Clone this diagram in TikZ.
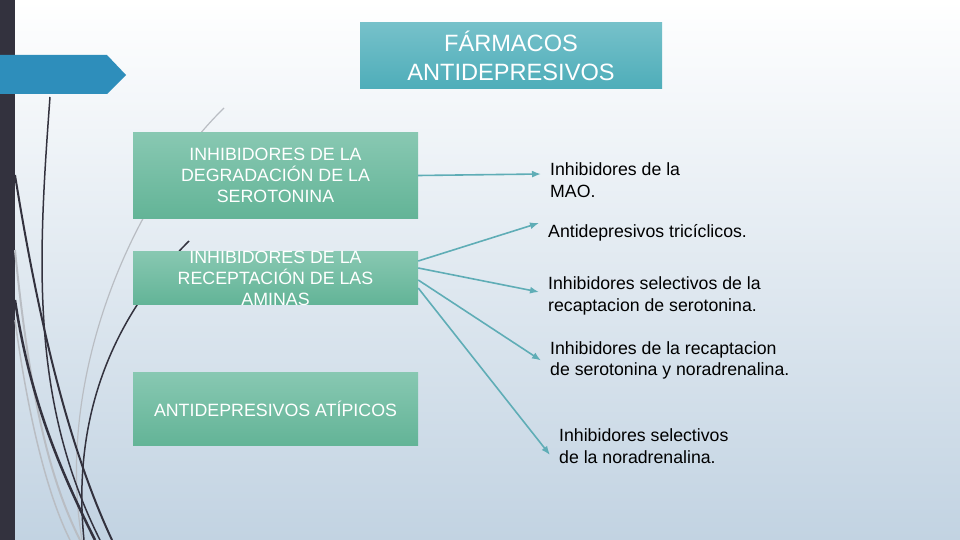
\documentclass[tikz,border=0pt]{standalone}
\usepackage{fontspec}
\setmainfont{Liberation Sans}
\usetikzlibrary{arrows.meta}
\definecolor{bgbot}{HTML}{C2D3E2}
\definecolor{darkbar}{HTML}{33323E}
\definecolor{banner}{HTML}{2E8EBB}
\definecolor{tealtop}{HTML}{76C1CA}
\definecolor{tealbot}{HTML}{4EADB9}
\definecolor{greentop}{HTML}{88C8B2}
\definecolor{greenbot}{HTML}{63B497}
\definecolor{arrowcol}{HTML}{5FADB6}
\definecolor{grayline}{HTML}{B9BDC3}
\tikzset{
  greenbox/.style={top color=greentop, bottom color=greenbot, minimum width=285pt, inner sep=0pt},
  boxtext/.style={text=white, align=center, font=\fontsize{17.8}{21}\selectfont},
  itemtext/.style={anchor=west, align=left, inner xsep=9pt, inner ysep=0pt, font=\fontsize{17.7}{21.5}\selectfont},
  arr/.style={arrowcol, line width=1.6pt, -{Latex[length=9pt,width=7pt]}}
}
\begin{document}
\begin{tikzpicture}[x=1pt, y=-1pt]
    \useasboundingbox (0,0) rectangle (960,540);
    % background and left decoration
    \fill[top color=white, bottom color=bgbot] (0,0) rectangle (960,540);
    \fill[darkbar] (0,0) rectangle (15,540);
    \fill[banner] (0,55) -- (107,55) -- (126,75) -- (107,94) -- (0,94) -- cycle;
    \draw[grayline, line width=1.2pt] (224,108) .. controls (130,200) and (55,380) .. (82,540);
    \draw[grayline, line width=2pt] (15,250) .. controls (30,400) and (50,480) .. (80,540);
    \draw[grayline, line width=1.5pt] (15,320) .. controls (30,430) and (50,500) .. (70,540);
    \draw[darkbar, line width=1.5pt] (50,97) .. controls (38,260) and (30,400) .. (100,540);
    \draw[darkbar, line width=2pt] (15,175) .. controls (40,330) and (70,450) .. (112,540);
    \draw[darkbar, line width=2.5pt] (15,300) .. controls (30,400) and (60,470) .. (95,540);
    \draw[darkbar, line width=1.5pt] (189,241) .. controls (110,320) and (72,420) .. (84,540);
    % boxes
    \node[top color=tealtop, bottom color=tealbot, minimum width=302pt, minimum height=66pt,
          text=white, align=center, font=\fontsize{23.6}{29}\selectfont] (titulo) at (511,56)
          {FÁRMACOS\\ANTIDEPRESIVOS};
    \node[greenbox, minimum height=85pt, boxtext] (degrad) at (275.5,175.5)
          {INHIBIDORES DE LA\\DEGRADACIÓN DE LA\\SEROTONINA};
    \node[greenbox, minimum height=53pt] (recep) at (275.5,277.5) {};
    \node[boxtext] (receptxt) at ([yshift=-1pt]recep) {INHIBIDORES DE LA\\RECEPTACIÓN DE LAS\\AMINAS};
    \node[greenbox, minimum height=73pt, boxtext] (atip) at (275.5,408.5)
          {ANTIDEPRESIVOS ATÍPICOS};
    % items
    \node[itemtext] (mao) at (541,180) {Inhibidores de la\\MAO.};
    \node[itemtext] (tric) at (539,233) {Antidepresivos tricíclicos.};
    \node[itemtext, font=\fontsize{17.7}{22}\selectfont] (sel) at (539,296)
          {Inhibidores selectivos de la\\recaptacion de serotonina.};
    \node[itemtext] (dual) at (541,360.5) {Inhibidores de la recaptacion\\de serotonina y noradrenalina.};
    \node[itemtext, font=\fontsize{17.7}{22}\selectfont] (nor) at (550,446)
          {Inhibidores selectivos\\de la noradrenalina.};
    % connectors
    \draw[arr] (degrad.east) -- ([yshift=6pt]mao.west);
    \foreach \s/\t/\d in {16.5/tric/10, 9.5/sel/4, -2.5/dual/0, -10.5/nor/-9}
        \draw[arr] ([yshift=\s pt]recep.east) -- ([yshift=\d pt]\t.west);
\end{tikzpicture}
\end{document}
